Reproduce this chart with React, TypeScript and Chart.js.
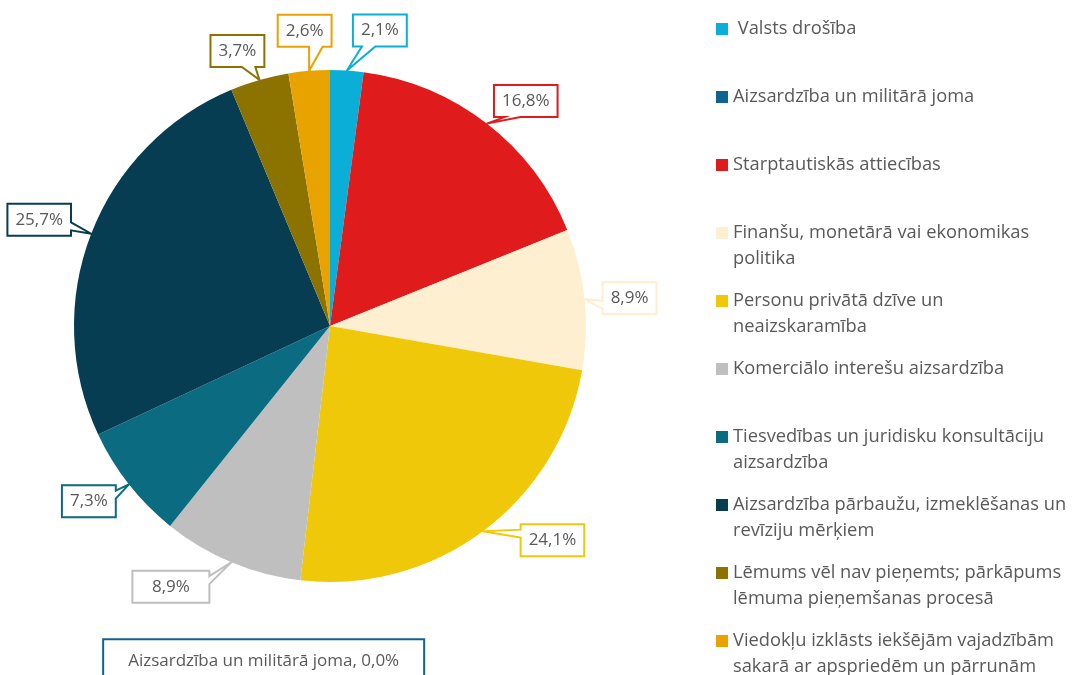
import React, { useEffect, useRef } from "react";
import { Chart, registerables } from "chart.js";

Chart.register(...registerables);

// ---- data ----
const categories: string[][] = [
  [" Valsts drošība"],
  ["Aizsardzība un militārā joma"],
  ["Starptautiskās attiecības"],
  ["Finanšu, monetārā vai ekonomikas", "politika"],
  ["Personu privātā dzīve un", "neaizskaramība"],
  ["Komerciālo interešu aizsardzība"],
  ["Tiesvedības un juridisku konsultāciju", "aizsardzība"],
  ["Aizsardzība pārbaužu, izmeklēšanas un", "revīziju mērķiem"],
  ["Lēmums vēl nav pieņemts; pārkāpums", "lēmuma pieņemšanas procesā"],
  ["Viedokļu izklāsts iekšējām vajadzībām", "sakarā ar apspriedēm un pārrunām"],
];
const shares: number[] = [2.1, 0.0, 16.8, 8.9, 24.1, 8.9, 7.3, 25.7, 3.7, 2.6];
const sliceColors: string[] = [
  "#0AAED6",
  "#0E6490",
  "#E01B1B",
  "#FDEFD0",
  "#F0C80A",
  "#BFBFBF",
  "#0B6B80",
  "#073D53",
  "#8C7300",
  "#E8A300",
];

// ---- label placement (style / position, not data) ----
type LabelPos = { dx: number; dy: number; w?: number; h?: number; wedge?: boolean; withName?: boolean };
const labelPlacement: LabelPos[] = [
  { dx: 33, dy: -40 },
  { dx: -100, dy: 590, w: 321, h: 46, wedge: false, withName: true },
  { dx: 39, dy: -22.5 },
  { dx: 45, dy: -1 },
  { dx: 69.5, dy: 9 },
  { dx: -60.5, dy: 24.5, w: 77 },
  { dx: -40, dy: 17 },
  { dx: -52, dy: -14 },
  { dx: -22, dy: -29 },
  { dx: -4.5, dy: -40 },
];

const FONT = "'Open Sans', 'DejaVu Sans', sans-serif";
const TEXT_COLOR = "#595959";

const fmt = (v: number) => v.toFixed(1).replace(".", ",") + "%";

function calloutPath(
  ctx: CanvasRenderingContext2D,
  l: number,
  t: number,
  w: number,
  h: number,
  tipX: number,
  tipY: number,
  wedge: boolean
) {
  const r = l + w;
  const b = t + h;
  const hc = l + w / 2;
  const vc = t + h / 2;
  const dx = tipX - hc;
  const dy = tipY - vc;
  const inside = Math.abs(dx) <= w / 2 && Math.abs(dy) <= h / 2;
  const useWedge = wedge && !inside;
  const dq = (dx * h) / w;
  const vertical = Math.abs(dy) - Math.abs(dq) > 0;
  const x1 = l + (w * (dx > 0 ? 7 : 2)) / 12;
  const x2 = l + (w * (dx > 0 ? 10 : 5)) / 12;
  const y1 = t + (h * (dy > 0 ? 7 : 2)) / 12;
  const y2 = t + (h * (dy > 0 ? 10 : 5)) / 12;
  ctx.beginPath();
  ctx.moveTo(l, t);
  if (useWedge && vertical && dy < 0) {
    ctx.lineTo(x1, t);
    ctx.lineTo(tipX, tipY);
    ctx.lineTo(x2, t);
  }
  ctx.lineTo(r, t);
  if (useWedge && !vertical && dx > 0) {
    ctx.lineTo(r, y1);
    ctx.lineTo(tipX, tipY);
    ctx.lineTo(r, y2);
  }
  ctx.lineTo(r, b);
  if (useWedge && vertical && dy > 0) {
    ctx.lineTo(x2, b);
    ctx.lineTo(tipX, tipY);
    ctx.lineTo(x1, b);
  }
  ctx.lineTo(l, b);
  if (useWedge && !vertical && dx < 0) {
    ctx.lineTo(l, y2);
    ctx.lineTo(tipX, tipY);
    ctx.lineTo(l, y1);
  }
  ctx.closePath();
}

const calloutLabels = {
  id: "calloutLabels",
  afterDatasetsDraw(chart: any) {
    const ctx: CanvasRenderingContext2D = chart.ctx;
    const meta = chart.getDatasetMeta(0);
    const ds = chart.data.datasets[0];
    ctx.save();
    ctx.font = `17px ${FONT}`;
    meta.data.forEach((arc: any, i: number) => {
      const p = labelPlacement[i];
      if (!p) return;
      const { x, y, startAngle, endAngle, outerRadius } = arc.getProps(
        ["x", "y", "startAngle", "endAngle", "outerRadius"],
        true
      );
      const mid = (startAngle + endAngle) / 2;
      const ax = x + Math.cos(mid) * outerRadius;
      const ay = y + Math.sin(mid) * outerRadius;
      const value = ds.data[i] as number;
      const name = (chart.data.labels[i] as string[]).join(" ").trim();
      const text = p.withName ? `${name}, ${fmt(value)}` : fmt(value);
      const tw = ctx.measureText(text).width;
      const w = p.w ?? tw + 16;
      const h = p.h ?? 32;
      const cx = ax + p.dx;
      const cy = ay + p.dy;
      const l = cx - w / 2;
      const t = cy - h / 2;
      calloutPath(ctx, l, t, w, h, ax, ay, p.wedge !== false);
      ctx.fillStyle = "#FFFFFF";
      ctx.fill();
      ctx.lineWidth = 2;
      ctx.lineJoin = "miter";
      ctx.strokeStyle = (ds.backgroundColor as string[])[i];
      ctx.stroke();
      ctx.fillStyle = TEXT_COLOR;
      ctx.textAlign = "center";
      ctx.textBaseline = "middle";
      ctx.fillText(text, cx, p.withName ? cy - 1 : cy);
    });
    ctx.restore();
  },
};

const sideLegend = {
  id: "sideLegend",
  afterDraw(chart: any) {
    const ctx: CanvasRenderingContext2D = chart.ctx;
    const ds = chart.data.datasets[0];
    const labels = chart.data.labels as string[][];
    const markerX = 716;
    const textX = 733;
    const firstY = 29;
    const step = 68;
    const lineH = 26;
    ctx.save();
    ctx.font = `18.3px ${FONT}`;
    ctx.textAlign = "left";
    ctx.textBaseline = "middle";
    labels.forEach((lines, i) => {
      const y = firstY + i * step;
      ctx.fillStyle = (ds.backgroundColor as string[])[i];
      ctx.fillRect(markerX, y - 6, 12, 12);
      ctx.fillStyle = TEXT_COLOR;
      lines.forEach((ln, j) => {
        ctx.fillText(ln, textX, y + j * lineH);
      });
    });
    ctx.restore();
  },
};

export default function App() {
  const ref = useRef<HTMLCanvasElement | null>(null);
  useEffect(() => {
    if (!ref.current) return;
    const chart = new Chart(ref.current, {
      type: "pie",
      data: {
        labels: categories,
        datasets: [
          {
            data: shares,
            backgroundColor: sliceColors,
            borderWidth: 0,
            hoverOffset: 0,
            offset: 0,
          },
        ],
      },
      options: {
        responsive: false,
        animation: false,
        layout: { padding: { left: 74, right: 489, top: 70, bottom: 93 } },
        plugins: {
          legend: { display: false },
          tooltip: { enabled: false },
        },
        events: [],
      },
      plugins: [calloutLabels, sideLegend],
    });
    return () => chart.destroy();
  }, []);
  return (
    <div style={{ position: "absolute", left: 0, top: 0, width: 1075, height: 675, background: "#fff" }}>
      <canvas ref={ref} width={1075} height={675} />
    </div>
  );
}
